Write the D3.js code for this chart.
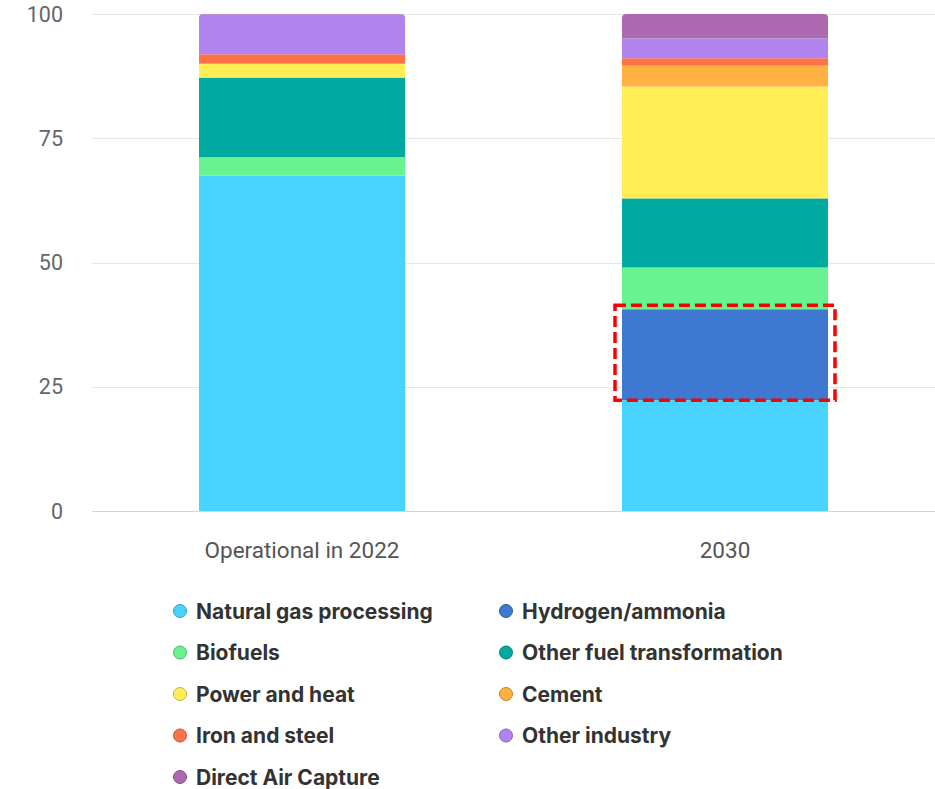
<!DOCTYPE html>
<html><head><meta charset="utf-8">
<script src="https://cdn.jsdelivr.net/npm/d3@7"></script>
<style>
html,body{margin:0;padding:0;background:#fff;}
svg{display:block;font-family:Roboto,"Noto Sans",sans-serif;}
</style></head>
<body>
<svg id="chart" width="935" height="789"></svg>
<script>
const categories = ["Operational in 2022", "2030"];
const seriesNames = ["Natural gas processing", "Hydrogen/ammonia", "Biofuels", "Other fuel transformation", "Power and heat", "Cement", "Iron and steel", "Other industry", "Direct Air Capture"];
const seriesColors = ["#48D4FF", "#3E78D0", "#69F290", "#00AAA0", "#FFEE55", "#FFB142", "#FF7148", "#B183EE", "#AD69B0"];
const values2022 = [67.5, 0, 3.7, 16.0, 2.8, 0, 1.9, 8.0, 0.1];
const values2030 = [22.3, 18.3, 8.4, 13.9, 22.5, 4.2, 1.5, 4.0, 4.9];
const yTicks = [0, 25, 50, 75, 100];
const legendOrder = ["Natural gas processing", "Hydrogen/ammonia", "Biofuels", "Other fuel transformation", "Power and heat", "Cement", "Iron and steel", "Other industry", "Direct Air Capture"];
const highlighted = {category: "2030", series: "Hydrogen/ammonia"};

const svg = d3.select("#chart");
const x = d3.scaleBand().domain(categories).range([90.5, 936.5]).paddingInner(0.513).paddingOuter(0.2565);
const y = d3.scaleLinear().domain([0, 100]).range([511, 14]);

// gridlines
svg.append("g").selectAll("line").data(yTicks).join("line")
  .attr("x1", 92).attr("x2", 935)
  .attr("y1", d => Math.round(y(d)) + 0.5).attr("y2", d => Math.round(y(d)) + 0.5)
  .attr("stroke", d => d === 0 ? "#ccd6eb" : "#e6e6e6").attr("stroke-width", 1);

// y labels
svg.append("g").selectAll("text").data(yTicks).join("text")
  .attr("x", 63).attr("y", d => y(d)).attr("dy", "0.36em")
  .attr("text-anchor", "end").attr("fill", "#666").attr("font-size", 21.5)
  .text(d => d);

// x labels
svg.append("g").selectAll("text").data(categories).join("text")
  .attr("x", d => x(d) + x.bandwidth() / 2).attr("y", 550).attr("dy", "0.36em")
  .attr("text-anchor", "middle").attr("fill", "#555").attr("font-size", 22.5)
  .text(d => d);

// stacked data
const rows = categories.map((c, i) => {
  const o = {category: c};
  const vals = i === 0 ? values2022 : values2030;
  seriesNames.forEach((s, j) => o[s] = vals[j]);
  return o;
});
const stack = d3.stack().keys(seriesNames)(rows);
const color = d3.scaleOrdinal().domain(seriesNames).range(seriesColors);

// clip paths for rounded tops
const defs = svg.append("defs");
categories.forEach((c, i) => {
  const total = d3.sum(i === 0 ? values2022 : values2030);
  defs.append("clipPath").attr("id", "clip" + i).append("rect")
    .attr("x", x(c)).attr("y", y(total)).attr("width", x.bandwidth())
    .attr("height", y(0) - y(total) + 10).attr("rx", 4);
});

const barsG = svg.append("g");
stack.forEach(layer => {
  layer.forEach((d, i) => {
    if (d[1] - d[0] <= 0) return;
    barsG.append("rect")
      .attr("clip-path", "url(#clip" + i + ")")
      .attr("x", x(d.data.category)).attr("width", x.bandwidth())
      .attr("y", y(d[1])).attr("height", y(d[0]) - y(d[1]))
      .attr("fill", color(layer.key));
  });
});

// highlight box
const hl = stack.find(l => l.key === highlighted.series)[categories.indexOf(highlighted.category)];
svg.append("rect")
  .attr("x", x(highlighted.category) - 7).attr("width", x.bandwidth() + 14)
  .attr("y", y(hl[1]) - 4).attr("height", y(hl[0]) - y(hl[1]) + 4)
  .attr("fill", "none").attr("stroke", "#ff0000").attr("stroke-width", 3.5)
  .attr("stroke-dasharray", "11,5");

// legend
const legend = svg.append("g");
legendOrder.forEach((s, i) => {
  const col = i % 2, row = Math.floor(i / 2);
  const lx = col === 0 ? 180 : 506;
  const ly = 611 + row * 41.5;
  const g = legend.append("g").attr("transform", `translate(${lx},${ly})`);
  g.append("circle").attr("r", 6.5).attr("fill", color(s))
    .attr("stroke", d3.color(color(s)).darker(0.8)).attr("stroke-width", 1);
  g.append("text").attr("x", 16).attr("dy", "0.36em")
    .attr("font-size", 21).attr("font-weight", 700).attr("fill", "#333")
    .attr("font-family", "Inter, Roboto, sans-serif")
    .text(s);
});
</script>
</body></html>
